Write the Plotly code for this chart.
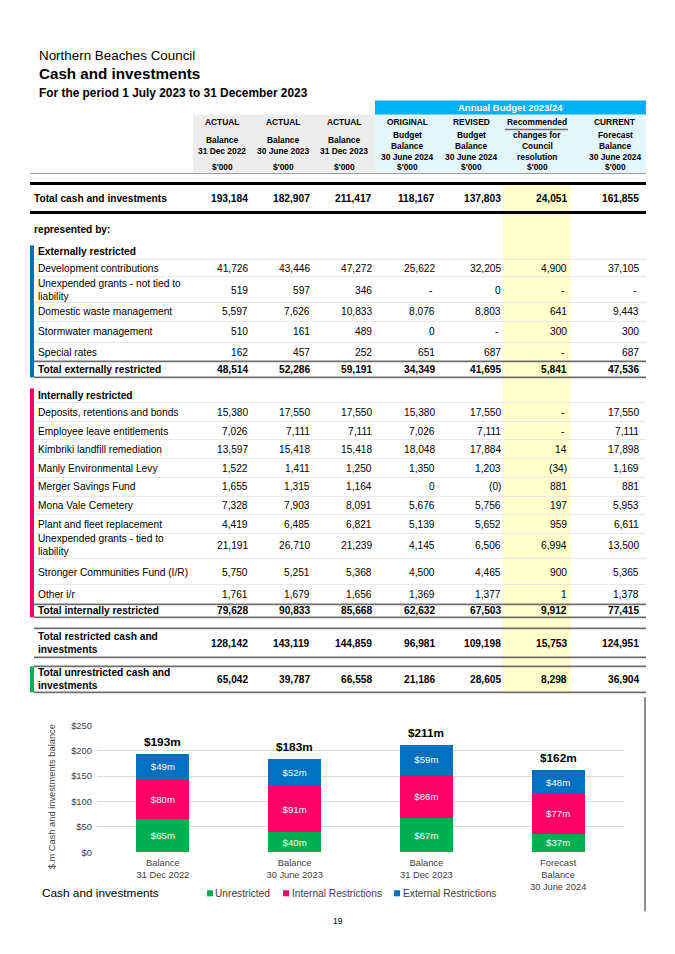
import plotly.graph_objects as go

FONT = "Liberation Sans, Arial, sans-serif"
# page is 675x954; the browser body has an 8px margin, so the figure is sized to fit inside it
OFF = 8
W, H = 675 - OFF, 954 - 2 * OFF
# empirical vertical calibration of the captured page
VK, VA = 0.9885, 5.6

# ---------------- DATA ----------------
col_top = ["ACTUAL", "ACTUAL", "ACTUAL", "ORIGINAL", "REVISED", "Recommended", "CURRENT"]
col_sub = [
    ["Balance", "31 Dec 2022"],
    ["Balance", "30 June 2023"],
    ["Balance", "31 Dec 2023"],
    ["Budget", "Balance", "30 June 2024"],
    ["Budget", "Balance", "30 June 2024"],
    ["changes for", "Council", "resolution"],
    ["Forecast", "Balance", "30 June 2024"],
]
unit_label = "$'000"

total_cash = [193184, 182907, 211417, 118167, 137803, 24051, 161855]

dev_contrib = [41726, 43446, 47272, 25622, 32205, 4900, 37105]
unexp_not_tied = [519, 597, 346, None, 0, None, None]
domestic_waste = [5597, 7626, 10833, 8076, 8803, 641, 9443]
stormwater = [510, 161, 489, 0, None, 300, 300]
special_rates = [162, 457, 252, 651, 687, None, 687]
total_external = [48514, 52286, 59191, 34349, 41695, 5841, 47536]

deposits = [15380, 17550, 17550, 15380, 17550, None, 17550]
employee_leave = [7026, 7111, 7111, 7026, 7111, None, 7111]
kimbriki = [13597, 15418, 15418, 18048, 17884, 14, 17898]
manly_levy = [1522, 1411, 1250, 1350, 1203, -34, 1169]
merger_fund = [1655, 1315, 1164, 0, -0.2, 881, 881]
mona_vale = [7328, 7903, 8091, 5676, 5756, 197, 5953]
plant_fleet = [4419, 6485, 6821, 5139, 5652, 959, 6611]
unexp_tied = [21191, 26710, 21239, 4145, 6506, 6994, 13500]
stronger_comm = [5750, 5251, 5368, 4500, 4465, 900, 5365]
other_ir = [1761, 1679, 1656, 1369, 1377, 1, 1378]
total_internal = [79628, 90833, 85668, 62632, 67503, 9912, 77415]

total_restricted = [128142, 143119, 144859, 96981, 109198, 15753, 124951]
total_unrestricted = [65042, 39787, 66558, 21186, 28605, 8298, 36904]

chart_categories = ["Balance<br>31 Dec 2022", "Balance<br>30 June 2023",
                    "Balance<br>31 Dec 2023", "Forecast<br>Balance<br>30 June 2024"]
chart_cols = [0, 1, 2, 6]
chart_unrestricted = [total_unrestricted[i] / 1000 for i in chart_cols]
chart_internal = [total_internal[i] / 1000 for i in chart_cols]
chart_external = [total_external[i] / 1000 for i in chart_cols]
chart_total = [total_cash[i] / 1000 for i in chart_cols]

GREEN, PINK, BLUE = "#00B050", "#FF0066", "#0070C0"

# ---------------- helpers (page pixel -> paper) ----------------
annotations, shapes = [], []


def X(x):
    return (x - OFF) / W


def Y(y):
    yc = (y - VA) / VK
    return 1 - (yc - OFF) / H


def text(x, y, s, size=10.2, bold=False, anchor="left", color="#000000", **kw):
    annotations.append(dict(
        x=X(x), y=Y(y), xref="paper", yref="paper",
        text=f"<b>{s}</b>" if bold else s, showarrow=False,
        xanchor=anchor, yanchor="middle", align="center" if anchor == "center" else anchor,
        font=dict(family=FONT, size=size, color=color), borderpad=0, **kw))


def rect(x0, y0, x1, y1, color, layer="below"):
    shapes.append(dict(type="rect", xref="paper", yref="paper",
                       x0=X(x0), x1=X(x1), y0=Y(y1), y1=Y(y0),
                       fillcolor=color, line=dict(width=0), layer=layer))


def hline(y, x0, x1, color, width):
    shapes.append(dict(type="line", xref="paper", yref="paper",
                       x0=X(x0), x1=X(x1), y0=Y(y), y1=Y(y),
                       line=dict(color=color, width=width)))


def fmt(v):
    if v is None:
        return "-"
    if v < 0:
        return f"({abs(v):,.0f})"
    return f"{v:,.0f}"


# ---------------- titles ----------------
text(38, 55, "Northern Beaches Council", size=13.4)
text(38, 73, "Cash and investments", size=15.2, bold=True)
text(38, 93, "For the period 1 July 2023 to 31 December 2023", size=11.9, bold=True)

# ---------------- header backgrounds ----------------
rect(193, 114, 375, 172, "#EDEDED")
rect(375, 114, 646, 172, "#E2F6FB")
rect(375, 100, 646, 114, "#00B0F0")
text(510, 107, "Annual Budget 2023/24", size=9.5, bold=True, anchor="center", color="#FFFFFF")
rect(503, 183, 571, 692, "#FFFFCC")

col_center = [222, 283, 344, 407, 471, 537, 615]
col_right = [249, 311, 373, 436, 502, 568, 640]
HS = 8.4
for i in range(7):
    cx = col_center[i]
    text(cx, 122, col_top[i], size=HS, bold=True, anchor="center")
    subs = col_sub[i]
    ys = [140, 151] if len(subs) == 2 else [135, 146, 157]
    for s, yy in zip(subs, ys):
        text(cx, yy, s, size=HS, bold=True, anchor="center")
    text(cx, 167, unit_label, size=HS, bold=True, anchor="center")
hline(129, 505, 568, "#707070", 1.5)

hline(173, 30, 646, "#9A9A9A", 1)
hline(183, 30, 646, "#000000", 3)
hline(212, 30, 646, "#000000", 3)

# ---------------- table rows ----------------
rows = [
    ("Total cash and investments", total_cash, 198, True),
    ("represented by:", None, 229, True),
    ("Externally restricted", None, 251, True),
    ("Development contributions", dev_contrib, 268, False),
    ("Unexpended grants - not tied to<br>liability", unexp_not_tied, 290, False),
    ("Domestic waste management", domestic_waste, 311, False),
    ("Stormwater management", stormwater, 331, False),
    ("Special rates", special_rates, 352, False),
    ("Total externally restricted", total_external, 369, True),
    ("Internally restricted", None, 395, True),
    ("Deposits, retentions and bonds", deposits, 412, False),
    ("Employee leave entitlements", employee_leave, 431, False),
    ("Kimbriki landfill remediation", kimbriki, 449, False),
    ("Manly Environmental Levy", manly_levy, 468, False),
    ("Merger Savings Fund", merger_fund, 486, False),
    ("Mona Vale Cemetery", mona_vale, 505, False),
    ("Plant and fleet replacement", plant_fleet, 524, False),
    ("Unexpended grants - tied to<br>liability", unexp_tied, 545, False),
    ("Stronger Communities Fund (I/R)", stronger_comm, 572, False),
    ("Other i/r", other_ir, 594, False),
    ("Total internally restricted", total_internal, 610, True),
    ("Total restricted cash and<br>investments", total_restricted, 643, True),
    ("Total unrestricted cash and<br>investments", total_unrestricted, 679, True),
]
for label, vals, yy, bold in rows:
    lx = 33 if label.startswith("Total cash") or label.startswith("represented") else 37
    text(lx, yy, label, size=10.2, bold=bold)
    if vals is not None:
        for i, v in enumerate(vals):
            text(col_right[i] - (3 if v is None else 0), yy, fmt(v), size=10.2, bold=bold, anchor="right")

# faint separators
for yy in [259, 276, 302, 321, 342, 402, 421, 439, 458, 477, 496, 514, 533, 558, 584]:
    hline(yy, 34, 646, "#E6E6E6", 1)
# total lines
for yy in [361, 377, 604, 617, 628, 657, 666, 692]:
    hline(yy, 34, 646, "#6E6E6E", 1.6)

# coloured section markers
rect(30, 245, 34, 377, BLUE, layer="above")
rect(30, 388, 34, 617, PINK, layer="above")
rect(30, 666, 34, 692, GREEN, layer="above")

# chart frame (right edge)
shapes.append(dict(type="line", xref="paper", yref="paper", x0=X(645), x1=X(645),
                   y0=Y(697), y1=Y(911), line=dict(color="#404040", width=1.2)))

# ---------------- bar chart ----------------
fig = go.Figure()
for name, vals, color in [("Unrestricted", chart_unrestricted, GREEN),
                          ("Internal Restrictions", chart_internal, PINK),
                          ("External Restrictions", chart_external, BLUE)]:
    fig.add_trace(go.Bar(
        x=chart_categories, y=vals, name=name, marker=dict(color=color, line=dict(width=0)),
        text=[f"${v:.0f}m" for v in vals], textposition="inside", insidetextanchor="middle",
        textangle=0, constraintext="none",
        textfont=dict(family=FONT, size=9.6, color="#FFFFFF"), showlegend=False))

for c, t in zip(chart_categories, chart_total):
    annotations.append(dict(x=c, y=t, xref="x", yref="y", text=f"<b>${t:.0f}m</b>",
                            showarrow=False, yanchor="bottom", yshift=3,
                            font=dict(family=FONT, size=11.8, color="#000000")))

# axis title
annotations.append(dict(x=X(52), y=Y(797), xref="paper", yref="paper",
                        xanchor="center", yanchor="middle",
                        text="$.m Cash and investments balance", textangle=-90, showarrow=False,
                        font=dict(family=FONT, size=9.3, color="#404040")))

# chart caption and legend
text(41, 893, "Cash and investments", size=11.8, color="#000000")
for mx, tx, lab, color in [(207, 214, "Unrestricted", GREEN),
                           (283, 291, "Internal Restrictions", PINK),
                           (394, 402, "External Restrictions", BLUE)]:
    shapes.append(dict(type="rect", xref="paper", yref="paper", x0=X(mx), x1=X(mx + 6),
                       y0=Y(896), y1=Y(890), fillcolor=color, line=dict(width=0)))
    text(tx, 893, lab, size=10.2, color="#404040")

text(338, 921, "19", size=8.5, anchor="center", color="#000000")

fig.update_layout(
    width=W, height=H, margin=dict(l=0, r=0, t=0, b=0),
    paper_bgcolor="#FFFFFF", plot_bgcolor="#FFFFFF",
    barmode="stack", bargap=0.598,
    font=dict(family=FONT, color="#404040"),
    annotations=annotations, shapes=shapes, showlegend=False,
    xaxis=dict(domain=[X(97), X(624)], showgrid=False, zeroline=False, showline=False,
               ticks="", ticklabelstandoff=3,
               tickfont=dict(family=FONT, size=9.3, color="#404040")),
    yaxis=dict(domain=[Y(852), Y(725)], range=[0, 250], dtick=50, tickprefix="$",
               showgrid=True, gridcolor="#D9D9D9", gridwidth=1, zeroline=False,
               showline=False, ticks="", ticklabelstandoff=4,
               tickfont=dict(family=FONT, size=9.4, color="#404040")),
)

fig.write_html("out.html")
